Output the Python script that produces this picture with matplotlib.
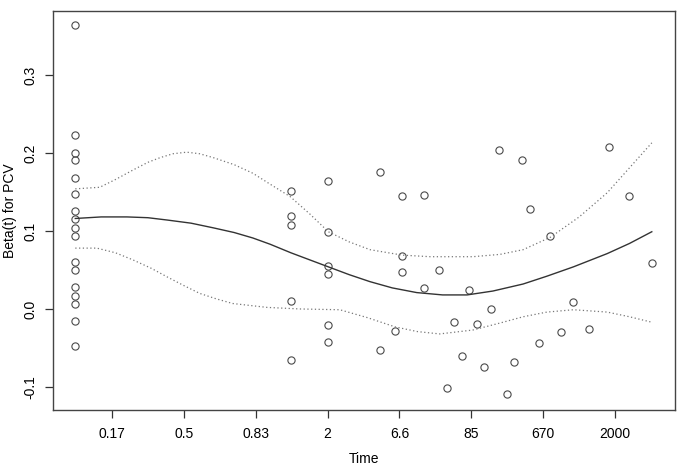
import matplotlib.pyplot as plt

plt.rcParams['font.family'] = ['Liberation Sans', 'DejaVu Sans']

# tick positions on the transformed time axis and their labels
tick_pos = [1, 2, 3, 4, 5, 6, 7, 8]
tick_labels = ['0.17', '0.5', '0.83', '2', '6.6', '85', '670', '2000']

# scaled Schoenfeld residuals (x on transformed time axis)
resid_x = [0.49] * 17 + [3.49] * 5 + [4.01] * 6 + [
    4.73, 4.73, 4.94, 5.04, 5.04, 5.04, 5.34, 5.34, 5.55, 5.66, 5.76, 5.87,
    5.97, 6.08, 6.18, 6.27, 6.39, 6.50, 6.59, 6.71, 6.82, 6.94, 7.10, 7.25,
    7.42, 7.64, 7.92, 8.19, 8.51]
resid_y = [0.364, 0.223, 0.200, 0.191, 0.168, 0.147, 0.126, 0.115, 0.104,
           0.094, 0.060, 0.050, 0.028, 0.017, 0.006, -0.015, -0.047,
           0.151, 0.119, 0.108, 0.010, -0.065,
           0.164, 0.099, 0.055, 0.045, -0.021, -0.042,
           0.176, -0.053, -0.028, 0.145, 0.068, 0.047, 0.146, 0.027, 0.050,
           -0.101, -0.017, -0.060, 0.024, -0.019, -0.074, 0.000, 0.204,
           -0.109, -0.068, 0.191, 0.128, -0.044, 0.094, -0.029, 0.009,
           -0.026, 0.208, 0.145, 0.059]

# smoothed beta(t)
fit_x = [0.49, 0.85, 1.21, 1.5, 1.77, 2.1, 2.41, 2.7, 2.96, 3.2, 3.49, 3.75,
         4.01, 4.3, 4.59, 4.9, 5.24, 5.6, 5.94, 6.3, 6.72, 7.05, 7.42, 7.89,
         8.2, 8.51]
fit_y = [0.116, 0.118, 0.118, 0.117, 0.114, 0.110, 0.104, 0.098, 0.091,
         0.083, 0.072, 0.063, 0.054, 0.044, 0.035, 0.027, 0.021, 0.018,
         0.018, 0.023, 0.032, 0.042, 0.054, 0.071, 0.084, 0.099]

# confidence band
upper_x = [0.49, 0.83, 1.05, 1.29, 1.5, 1.67, 1.85, 2.04, 2.22, 2.41, 2.7,
           2.96, 3.2, 3.48, 3.75, 4.01, 4.3, 4.59, 5.04, 5.43, 6.02, 6.4,
           6.72, 7.10, 7.5, 7.89, 8.21, 8.51]
upper_y = [0.154, 0.156, 0.166, 0.178, 0.188, 0.194, 0.199, 0.201, 0.199,
           0.194, 0.185, 0.174, 0.160, 0.144, 0.122, 0.099, 0.086, 0.076,
           0.069, 0.067, 0.067, 0.070, 0.076, 0.092, 0.118, 0.149, 0.182,
           0.213]
lower_x = [0.49, 0.79, 1.05, 1.29, 1.55, 1.77, 2.0, 2.22, 2.45, 2.68, 3.16,
           3.62, 4.17, 4.55, 4.94, 5.25, 5.56, 6.02, 6.4, 6.72, 7.05, 7.42,
           7.89, 8.2, 8.51]
lower_y = [0.078, 0.078, 0.072, 0.063, 0.052, 0.041, 0.030, 0.020, 0.013,
           0.007, 0.002, 0.000, -0.001, -0.011, -0.023, -0.029, -0.032,
           -0.027, -0.018, -0.010, -0.004, -0.001, -0.004, -0.010, -0.017]

fig = plt.figure(figsize=(6.83, 4.72), dpi=100)
ax = fig.add_axes([0.0776, 0.1314, 0.9104, 0.8453])

ax.plot(resid_x, resid_y, 'o', markersize=5.2, markerfacecolor='none',
        markeredgecolor='#4a4a4a', markeredgewidth=0.8)
ax.plot(fit_x, fit_y, '-', color='#333333', linewidth=1.0)
ax.plot(upper_x, upper_y, color='#777777', linewidth=0.9, linestyle=(0, (1, 2)))
ax.plot(lower_x, lower_y, color='#777777', linewidth=0.9, linestyle=(0, (1, 2)))

ax.set_xlim(0.18, 8.83)
ax.set_ylim(-0.1295, 0.382)

ax.set_xticks(tick_pos)
ax.set_xticklabels(tick_labels)
ax.set_yticks([-0.1, 0.0, 0.1, 0.2, 0.3])
ax.set_yticklabels(['-0.1', '0.0', '0.1', '0.2', '0.3'], rotation=90, va='center')

ax.tick_params(axis='both', direction='out', length=6, width=0.9,
               color='#333333', labelsize=10, labelcolor='black')
ax.tick_params(axis='x', pad=6)
ax.tick_params(axis='y', pad=5)

for side in ax.spines.values():
    side.set_color('#444444')
    side.set_linewidth(1.0)

ax.set_xlabel('Time', fontsize=10, labelpad=8)
ax.set_ylabel('Beta(t) for PCV', fontsize=10, labelpad=5)

fig.savefig('out.png', dpi=100)
